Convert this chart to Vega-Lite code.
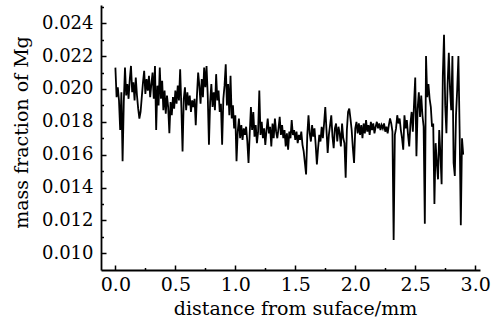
{
  "$schema": "https://vega.github.io/schema/vega-lite/v6.json",
  "width": 379,
  "height": 265,
  "autosize": "none",
  "padding": {"left": 101, "top": 5, "right": 13, "bottom": 50},
  "background": "white",
  "config": {
    "view": {"stroke": null},
    "font": "DejaVu Serif",
    "axis": {
      "labelFont": "DejaVu Serif",
      "titleFont": "DejaVu Serif",
      "labelColor": "black",
      "titleColor": "black",
      "titleFontWeight": "normal",
      "domainColor": "black",
      "tickColor": "black",
      "domainWidth": 1.8,
      "tickWidth": 1.5,
      "grid": false
    }
  },
  "data": {"values": [
    {"d":0.00,"m":0.0213},{"d":0.01,"m":0.0195},{"d":0.02,"m":0.0201},{"d":0.03,"m":0.0193},{"d":0.04,"m":0.0175},
    {"d":0.05,"m":0.0198},{"d":0.06,"m":0.0156},{"d":0.07,"m":0.0192},{"d":0.08,"m":0.0213},{"d":0.09,"m":0.0196},
    {"d":0.10,"m":0.0203},{"d":0.11,"m":0.0194},{"d":0.12,"m":0.0206},{"d":0.13,"m":0.0214},{"d":0.14,"m":0.0198},
    {"d":0.15,"m":0.0204},{"d":0.16,"m":0.0193},{"d":0.17,"m":0.0207},{"d":0.18,"m":0.0196},{"d":0.19,"m":0.0188},
    {"d":0.20,"m":0.0182},{"d":0.21,"m":0.0186},{"d":0.22,"m":0.0195},{"d":0.23,"m":0.0204},{"d":0.24,"m":0.0211},
    {"d":0.25,"m":0.0197},{"d":0.26,"m":0.0206},{"d":0.27,"m":0.0199},{"d":0.28,"m":0.0208},{"d":0.29,"m":0.0195},
    {"d":0.30,"m":0.0203},{"d":0.31,"m":0.0210},{"d":0.32,"m":0.0194},{"d":0.33,"m":0.0214},{"d":0.34,"m":0.0175},
    {"d":0.35,"m":0.0202},{"d":0.36,"m":0.0190},{"d":0.37,"m":0.0213},{"d":0.38,"m":0.0194},{"d":0.39,"m":0.0205},
    {"d":0.40,"m":0.0187},{"d":0.41,"m":0.0199},{"d":0.42,"m":0.0185},{"d":0.43,"m":0.0196},{"d":0.44,"m":0.0189},
    {"d":0.45,"m":0.0173},{"d":0.46,"m":0.0192},{"d":0.47,"m":0.0184},{"d":0.48,"m":0.0195},{"d":0.49,"m":0.0188},
    {"d":0.50,"m":0.0199},{"d":0.51,"m":0.0191},{"d":0.52,"m":0.0202},{"d":0.53,"m":0.0193},{"d":0.54,"m":0.0212},
    {"d":0.55,"m":0.0189},{"d":0.56,"m":0.0162},{"d":0.57,"m":0.0194},{"d":0.58,"m":0.0201},{"d":0.59,"m":0.0187},
    {"d":0.60,"m":0.0198},{"d":0.61,"m":0.0190},{"d":0.62,"m":0.0196},{"d":0.63,"m":0.0186},{"d":0.64,"m":0.0193},
    {"d":0.65,"m":0.0189},{"d":0.66,"m":0.0194},{"d":0.67,"m":0.0178},{"d":0.68,"m":0.0196},{"d":0.69,"m":0.0210},
    {"d":0.70,"m":0.0202},{"d":0.71,"m":0.0191},{"d":0.72,"m":0.0206},{"d":0.73,"m":0.0195},{"d":0.74,"m":0.0213},
    {"d":0.75,"m":0.0201},{"d":0.76,"m":0.0214},{"d":0.77,"m":0.0196},{"d":0.78,"m":0.0166},{"d":0.79,"m":0.0192},
    {"d":0.80,"m":0.0203},{"d":0.81,"m":0.0189},{"d":0.82,"m":0.0198},{"d":0.83,"m":0.0187},{"d":0.84,"m":0.0209},
    {"d":0.85,"m":0.0193},{"d":0.86,"m":0.0199},{"d":0.87,"m":0.0186},{"d":0.88,"m":0.0191},{"d":0.89,"m":0.0166},
    {"d":0.90,"m":0.0194},{"d":0.91,"m":0.0202},{"d":0.92,"m":0.0215},{"d":0.93,"m":0.0190},{"d":0.94,"m":0.0203},
    {"d":0.95,"m":0.0184},{"d":0.96,"m":0.0208},{"d":0.97,"m":0.0182},{"d":0.98,"m":0.0190},{"d":0.99,"m":0.0176},
    {"d":1.00,"m":0.0184},{"d":1.01,"m":0.0156},{"d":1.02,"m":0.0174},{"d":1.03,"m":0.0182},{"d":1.04,"m":0.0170},
    {"d":1.05,"m":0.0178},{"d":1.06,"m":0.0169},{"d":1.07,"m":0.0176},{"d":1.08,"m":0.0172},{"d":1.09,"m":0.0177},
    {"d":1.10,"m":0.0168},{"d":1.11,"m":0.0155},{"d":1.12,"m":0.0173},{"d":1.13,"m":0.0189},{"d":1.14,"m":0.0175},
    {"d":1.15,"m":0.0186},{"d":1.16,"m":0.0171},{"d":1.17,"m":0.0178},{"d":1.18,"m":0.0167},{"d":1.19,"m":0.0174},
    {"d":1.20,"m":0.0199},{"d":1.21,"m":0.0172},{"d":1.22,"m":0.0180},{"d":1.23,"m":0.0170},{"d":1.24,"m":0.0176},
    {"d":1.25,"m":0.0166},{"d":1.26,"m":0.0175},{"d":1.27,"m":0.0182},{"d":1.28,"m":0.0173},{"d":1.29,"m":0.0177},
    {"d":1.30,"m":0.0165},{"d":1.31,"m":0.0179},{"d":1.32,"m":0.0170},{"d":1.33,"m":0.0182},{"d":1.34,"m":0.0174},
    {"d":1.35,"m":0.0170},{"d":1.36,"m":0.0176},{"d":1.37,"m":0.0183},{"d":1.38,"m":0.0172},{"d":1.39,"m":0.0178},
    {"d":1.40,"m":0.0170},{"d":1.41,"m":0.0175},{"d":1.42,"m":0.0165},{"d":1.43,"m":0.0173},{"d":1.44,"m":0.0163},
    {"d":1.45,"m":0.0174},{"d":1.46,"m":0.0170},{"d":1.47,"m":0.0181},{"d":1.48,"m":0.0172},{"d":1.49,"m":0.0175},
    {"d":1.50,"m":0.0169},{"d":1.51,"m":0.0174},{"d":1.52,"m":0.0167},{"d":1.53,"m":0.0172},{"d":1.54,"m":0.0169},
    {"d":1.55,"m":0.0174},{"d":1.56,"m":0.0166},{"d":1.57,"m":0.0162},{"d":1.58,"m":0.0155},{"d":1.59,"m":0.0148},
    {"d":1.60,"m":0.0172},{"d":1.61,"m":0.0184},{"d":1.62,"m":0.0173},{"d":1.63,"m":0.0168},{"d":1.64,"m":0.0178},
    {"d":1.65,"m":0.0171},{"d":1.66,"m":0.0176},{"d":1.67,"m":0.0166},{"d":1.68,"m":0.0154},{"d":1.69,"m":0.0164},
    {"d":1.70,"m":0.0172},{"d":1.71,"m":0.0168},{"d":1.72,"m":0.0177},{"d":1.73,"m":0.0170},{"d":1.74,"m":0.0179},
    {"d":1.75,"m":0.0189},{"d":1.76,"m":0.0175},{"d":1.77,"m":0.0161},{"d":1.78,"m":0.0172},{"d":1.79,"m":0.0178},
    {"d":1.80,"m":0.0184},{"d":1.81,"m":0.0171},{"d":1.82,"m":0.0164},{"d":1.83,"m":0.0176},{"d":1.84,"m":0.0179},
    {"d":1.85,"m":0.0168},{"d":1.86,"m":0.0177},{"d":1.87,"m":0.0173},{"d":1.88,"m":0.0165},{"d":1.89,"m":0.0179},
    {"d":1.90,"m":0.0170},{"d":1.91,"m":0.0167},{"d":1.92,"m":0.0146},{"d":1.93,"m":0.0175},{"d":1.94,"m":0.0186},
    {"d":1.95,"m":0.0188},{"d":1.96,"m":0.0182},{"d":1.97,"m":0.0175},{"d":1.98,"m":0.0164},{"d":1.99,"m":0.0155},
    {"d":2.00,"m":0.0176},{"d":2.01,"m":0.0180},{"d":2.02,"m":0.0173},{"d":2.03,"m":0.0179},{"d":2.04,"m":0.0172},
    {"d":2.05,"m":0.0178},{"d":2.06,"m":0.0170},{"d":2.07,"m":0.0179},{"d":2.08,"m":0.0173},{"d":2.09,"m":0.0181},
    {"d":2.10,"m":0.0174},{"d":2.11,"m":0.0178},{"d":2.12,"m":0.0172},{"d":2.13,"m":0.0180},{"d":2.14,"m":0.0175},
    {"d":2.15,"m":0.0179},{"d":2.16,"m":0.0173},{"d":2.17,"m":0.0177},{"d":2.18,"m":0.0180},{"d":2.19,"m":0.0176},
    {"d":2.20,"m":0.0179},{"d":2.21,"m":0.0175},{"d":2.22,"m":0.0178},{"d":2.23,"m":0.0176},{"d":2.24,"m":0.0179},
    {"d":2.25,"m":0.0174},{"d":2.26,"m":0.0177},{"d":2.27,"m":0.0173},{"d":2.28,"m":0.0178},{"d":2.29,"m":0.0182},
    {"d":2.30,"m":0.0179},{"d":2.31,"m":0.0174},{"d":2.32,"m":0.0108},{"d":2.33,"m":0.0172},{"d":2.34,"m":0.0176},
    {"d":2.35,"m":0.0184},{"d":2.36,"m":0.0179},{"d":2.37,"m":0.0182},{"d":2.38,"m":0.0175},{"d":2.39,"m":0.0170},
    {"d":2.40,"m":0.0163},{"d":2.41,"m":0.0184},{"d":2.42,"m":0.0176},{"d":2.43,"m":0.0181},{"d":2.44,"m":0.0172},
    {"d":2.45,"m":0.0165},{"d":2.46,"m":0.0179},{"d":2.47,"m":0.0186},{"d":2.48,"m":0.0174},{"d":2.49,"m":0.0191},
    {"d":2.50,"m":0.0207},{"d":2.51,"m":0.0159},{"d":2.52,"m":0.0188},{"d":2.53,"m":0.0198},{"d":2.54,"m":0.0183},
    {"d":2.55,"m":0.0196},{"d":2.56,"m":0.0184},{"d":2.57,"m":0.0177},{"d":2.58,"m":0.0118},{"d":2.59,"m":0.0220},
    {"d":2.60,"m":0.0195},{"d":2.61,"m":0.0203},{"d":2.62,"m":0.0194},{"d":2.63,"m":0.0189},{"d":2.64,"m":0.0177},
    {"d":2.65,"m":0.0179},{"d":2.66,"m":0.0130},{"d":2.67,"m":0.0167},{"d":2.68,"m":0.0155},{"d":2.69,"m":0.0145},
    {"d":2.70,"m":0.0175},{"d":2.71,"m":0.0160},{"d":2.72,"m":0.0142},{"d":2.73,"m":0.0208},{"d":2.74,"m":0.0233},
    {"d":2.75,"m":0.0190},{"d":2.76,"m":0.0173},{"d":2.77,"m":0.0203},{"d":2.78,"m":0.0222},{"d":2.79,"m":0.0200},
    {"d":2.80,"m":0.0187},{"d":2.81,"m":0.0220},{"d":2.82,"m":0.0155},{"d":2.83,"m":0.0147},{"d":2.84,"m":0.0184},
    {"d":2.85,"m":0.0200},{"d":2.86,"m":0.0220},{"d":2.87,"m":0.0175},{"d":2.88,"m":0.0117},{"d":2.89,"m":0.0170},
    {"d":2.90,"m":0.0160}
  ]},
  "mark": {"type": "line", "color": "black", "strokeWidth": 1.8, "clip": true},
  "encoding": {
    "x": {
      "field": "d", "type": "quantitative",
      "scale": {"domain": [-0.12, 3.04], "nice": false, "zero": false},
      "axis": {
        "values": [0, 0.25, 0.5, 0.75, 1, 1.25, 1.5, 1.75, 2, 2.25, 2.5, 2.75, 3],
        "labelExpr": "round(datum.value*4) % 2 == 1 ? '' : format(datum.value, '.1f')",
        "tickSize": {"condition": {"test": "round(datum.value*4) % 2 == 1", "value": -2.5}, "value": -5},
        "labelPadding": 10,
        "labelFontSize": 19,
        "labelFlush": false,
        "labelOverlap": false,
        "title": "distance from suface/mm",
        "titleFontSize": 19,
        "titleX": 194,
        "titleY": 44,
        "titleBaseline": "alphabetic",
        "titleAlign": "center"
      }
    },
    "y": {
      "field": "m", "type": "quantitative",
      "scale": {"domain": [0.00898, 0.02511], "nice": false, "zero": false},
      "axis": {
        "values": [0.010, 0.011, 0.012, 0.013, 0.014, 0.015, 0.016, 0.017, 0.018, 0.019, 0.020, 0.021, 0.022, 0.023, 0.024, 0.025],
        "labelExpr": "round(datum.value*1000) % 2 == 1 ? '' : format(datum.value, '.3f')",
        "tickSize": {"condition": {"test": "round(datum.value*1000) % 2 == 1", "value": -2.5}, "value": -5},
        "labelPadding": 13,
        "labelFontSize": 18,
        "labelFlush": false,
        "labelOverlap": false,
        "title": "mass fraction of Mg",
        "titleFontSize": 19,
        "titleAngle": -90,
        "titleX": -74,
        "titleY": 127,
        "titleBaseline": "alphabetic",
        "titleAlign": "center"
      }
    }
  }
}
